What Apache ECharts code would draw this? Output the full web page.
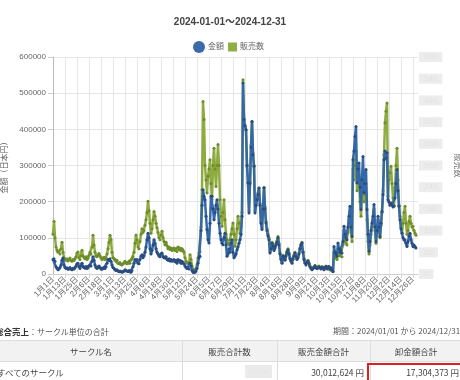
<!DOCTYPE html>
<html>
<head>
<meta charset="utf-8">
<script src="https://cdn.jsdelivr.net/npm/echarts@6/dist/echarts.min.js"></script>
<style>
  html,body{margin:0;padding:0;background:#fff;overflow:hidden;}
  #chart{position:absolute;left:0;top:0;width:460px;height:380px;}
  .ov{position:absolute;font-family:"Noto Sans CJK JP",sans-serif;font-size:8px;color:#555;white-space:nowrap;line-height:12px;}
  .cell{position:absolute;font-family:"Noto Sans CJK JP",sans-serif;font-size:8.5px;color:#444;white-space:nowrap;line-height:20px;text-align:center;}
</style>
</head>
<body>
<div id="chart"></div>
<div class="ov" style="left:-5px;top:325px;"><b style="color:#333;font-size:8.5px;">総合売上</b>：サークル単位の合計</div>
<div class="ov" style="left:333px;top:325px;">期間：2024/01/01 から 2024/12/31</div>
<div style="position:absolute;left:-10px;top:340px;width:480px;height:20px;background:#f2f2f2;border-top:1px solid #ddd;border-bottom:1px solid #ddd;"></div>
<div style="position:absolute;left:182px;top:340px;width:1px;height:40px;background:#ddd;"></div>
<div style="position:absolute;left:277px;top:340px;width:1px;height:40px;background:#ddd;"></div>
<div style="position:absolute;left:370px;top:340px;width:1px;height:40px;background:#ddd;"></div>
<div class="cell" style="left:0;top:341px;width:182px;">サークル名</div>
<div class="cell" style="left:182px;top:341px;width:95px;">販売合計数</div>
<div class="cell" style="left:277px;top:341px;width:93px;">販売金額合計</div>
<div class="cell" style="left:370px;top:341px;width:92px;">卸金額合計</div>
<div class="cell" style="left:-3px;top:362px;text-align:left;">すべてのサークル</div>
<div class="cell" style="left:245px;top:365px;width:27px;height:13px;line-height:13px;background:#ebebeb;color:#e4e4e4;font-size:7px;">00,000</div>
<div class="cell" style="right:96px;top:362px;text-align:right;">30,012,624 円</div>
<div class="cell" style="right:1px;top:362px;text-align:right;">17,304,373 円</div>
<div style="position:absolute;left:367px;top:363px;width:96px;height:20px;border:2px solid #d9202a;box-sizing:border-box;"></div>
<script>
const monthDays = [31,29,31,30,31,30,31,31,30,31,30,31];
const categories = [];
monthDays.forEach(function(n, m){ for (let d = 1; d <= n; d++) categories.push((m+1) + '月' + d + '日'); });

// 金額 (yen), daily
const amountJan = [40000,42000,35000,20000,15000,12000,14000,18000,25000,38000,44000,25000,18000,15000,17000,13000,15000,18000,14000,12000,16000,14000,17000,22000,28000,30000,20000,15000,22000,30000,20000];
const amountFeb = [18000,16000,20000,15000,17000,22000,25000,22000,35000,48000,38000,25000,18000,15000,18000,22000,18000,14000,13000,15000,18000,15000,20000,30000,40000,38000,42000,35000,25000];
const amountMar = [18000,16000,12000,10000,12000,8000,6000,8000,6000,5000,6000,8000,12000,10000,8000,7000,10000,6000,5000,10000,20000,30000,40000,38000,40000,30000,28000,40000,50000,53000,45000];
const amountApr = [50000,60000,75000,95000,113000,100000,70000,55000,65000,80000,95000,85000,70000,60000,55000,50000,48000,55000,58000,48000,45000,44000,48000,40000,38000,42000,36000,40000,35000,38000];
const amountMay = [40000,34000,38000,30000,40000,35000,38000,30000,35000,32000,28000,22000,18000,15000,17000,14000,30000,22000,10000,5000,4000,5000,8000,15000,30000,45000,49000,120000,190000,233000,215000];
const amountJun = [205000,160000,123000,95000,86000,140000,215000,215000,180000,150000,170000,190000,205000,180000,140000,113000,95000,85000,81000,100000,113000,80000,49000,55000,70000,60000,85000,95000,60000,45000];
const amountJul = [50000,55000,67000,75000,85000,95000,110000,160000,528000,427000,410000,399000,300000,252000,169000,250000,350000,422000,330000,298000,169000,190000,205000,220000,238000,190000,140000,123000,180000,238000,180000];
const amountAug = [141000,120000,105000,95000,58000,70000,85000,77000,65000,72000,80000,88000,100000,80000,55000,40000,30000,49000,45000,38000,50000,60000,67000,55000,42000,35000,30000,40000,50000,58000,48000];
const amountSep = [40000,45000,55000,70000,80000,86000,60000,40000,30000,25000,32000,35000,28000,20000,15000,12000,15000,18000,22000,17000,15000,18000,20000,17000,14000,19000,16000,12000,17000,20000];
const amountOct = [15000,18000,21000,14000,17000,12000,7000,76000,60000,55000,49000,86000,70000,60000,65000,58000,90000,132000,110000,100000,95000,130000,160000,187000,130000,104000,316000,340000,380000,408000,252000];
const amountNov = [290000,307000,240000,178000,260000,325000,225000,250000,289000,178000,110000,63000,90000,120000,141000,160000,192000,130000,90000,120000,160000,130000,104000,140000,173000,220000,316000,340000,320000,335000];
const amountDec = [205000,200000,190000,196000,190000,185000,187000,210000,250000,289000,230000,187000,150000,125000,113000,100000,95000,95000,85000,76000,90000,105000,113000,95000,85000,76000,80000,76000,72000,null,null];

// 販売数 (count), daily
const countJan = [110,146,100,75,66,60,63,55,70,88,60,45,40,38,42,36,40,44,38,35,40,37,42,48,58,61,45,40,50,66,50];
const countFeb = [45,42,48,40,44,52,60,55,75,107,80,60,50,48,52,57,50,44,40,42,46,40,45,55,70,88,107,95,60];
const countMar = [45,43,40,35,38,30,28,32,27,25,28,30,35,32,28,30,35,30,38,43,48,60,85,108,95,75,70,90,110,125,115];
const countApr = [120,135,150,170,201,175,140,113,125,150,173,160,140,128,115,100,95,108,118,100,90,81,88,78,70,75,68,72,65,70];
const countMay = [72,65,70,62,75,68,72,64,70,66,60,45,35,30,32,28,53,40,22,12,7,8,15,25,45,58,62,130,233,477,427];
const countJun = [300,260,224,270,290,316,250,205,300,348,290,242,300,358,300,205,160,132,170,205,150,110,95,85,80,95,110,125,141,110];
const countJul = [77,95,125,160,140,113,130,170,537,427,410,399,300,252,175,255,355,422,335,300,175,195,210,225,238,195,145,128,185,240,185];
const countAug = [145,125,110,100,62,72,88,80,68,75,85,92,104,85,58,42,32,52,48,40,53,63,70,58,45,38,32,42,53,60,50];
const countSep = [42,48,58,72,83,88,62,42,32,28,34,38,30,22,17,14,17,20,24,19,17,20,22,19,16,21,18,14,19,22];
const countOct = [14,16,18,12,15,10,6,60,50,45,40,70,60,50,55,48,80,120,95,85,80,115,150,175,120,90,290,260,300,340,230];
const countNov = [250,260,200,160,230,280,200,220,250,150,90,55,80,110,130,150,180,120,85,115,150,125,100,135,170,230,330,418,450,473];
const countDec = [215,260,280,298,250,210,190,240,300,348,260,190,160,130,115,140,170,187,140,110,120,145,160,140,130,132,120,113,107,null,null];

const amount = [].concat(amountJan,amountFeb,amountMar,amountApr,amountMay,amountJun,amountJul,amountAug,amountSep,amountOct,amountNov,amountDec);
const count = [].concat(countJan,countFeb,countMar,countApr,countMay,countJun,countJul,countAug,countSep,countOct,countNov,countDec);

const FONT = '"Liberation Sans","Noto Sans CJK JP",sans-serif';
const chart = echarts.init(document.getElementById('chart'), null, {renderer:'canvas'});
chart.setOption({
  animation: false,
  textStyle: {fontFamily: FONT},
  title: {
    text: '2024-01-01～2024-12-31', left: 'center', top: 17, padding: 0,
    textStyle: {fontSize: 10, fontWeight: 'bold', color: '#444', fontFamily: FONT}
  },
  legend: [
    {data: [{name: '金額', icon: 'circle', itemStyle: {color: '#3b69aa'}}], left: 193, top: 41, padding: 0,
     itemWidth: 12, itemHeight: 12, textStyle: {fontSize: 8, color: '#666', padding: [0,0,0,-2]}},
    {data: [{name: '販売数', icon: 'rect', itemStyle: {color: '#8caf46'}}], left: 228, top: 42.5, padding: 0,
     itemWidth: 9, itemHeight: 9, textStyle: {fontSize: 8, color: '#666', padding: [0,0,0,-2]}}
  ],
  grid: {left: 53, right: 42, top: 57, bottom: 106, containLabel: false, outerBoundsMode: 'none'},
  xAxis: {
    type: 'category', data: categories, boundaryGap: false,
    axisLine: {show: true, lineStyle: {color: '#d0d0d0'}},
    axisTick: {show: true, interval: 11, length: 4, lineStyle: {color: '#d8d8d8'}},
    axisLabel: {interval: 11, rotate: 45, fontSize: 8, color: '#666', margin: 4},
    splitLine: {show: true, interval: 11, lineStyle: {color: '#e6e6e6'}}
  },
  yAxis: [
    {
      type: 'value', min: 0, max: 600000, interval: 100000, position: 'left',
      name: '金額（日本円）', nameLocation: 'middle', nameGap: 41,
      nameTextStyle: {fontSize: 8, color: '#666'},
      axisLine: {show: true, lineStyle: {color: '#bbb'}},
      axisTick: {show: true, length: 5, lineStyle: {color: '#ccc'}},
      axisLabel: {fontSize: 8, color: '#666', margin: 7, formatter: function(v){ return String(v); }},
      splitLine: {lineStyle: {color: '#e6e6e6'}}
    },
    {
      type: 'value', min: 0, max: 600, interval: 60, position: 'right',
      name: '販売数', nameLocation: 'middle', nameGap: 31, nameRotate: -90,
      nameTextStyle: {fontSize: 8, color: '#777'},
      axisLine: {show: false}, axisTick: {show: false}, splitLine: {show: false},
      axisLabel: {fontSize: 8, color: '#e2e2e2', backgroundColor: '#ececec', padding: [1, 5], margin: 1}
    }
  ],
  series: [
    {
      name: '販売数', type: 'line', yAxisIndex: 1, data: count, z: 2,
      symbol: 'circle', symbolSize: 3, showSymbol: true, showAllSymbol: true,
      lineStyle: {width: 2.5, color: '#8dab3e'}, itemStyle: {color: '#6e8d2c'}
    },
    {
      name: '金額', type: 'line', yAxisIndex: 0, data: amount, z: 3,
      symbol: 'circle', symbolSize: 3, showSymbol: true, showAllSymbol: true,
      lineStyle: {width: 2.5, color: '#3568a8'}, itemStyle: {color: '#2a4c7e'}
    }
  ]
});
</script>
</body>
</html>
